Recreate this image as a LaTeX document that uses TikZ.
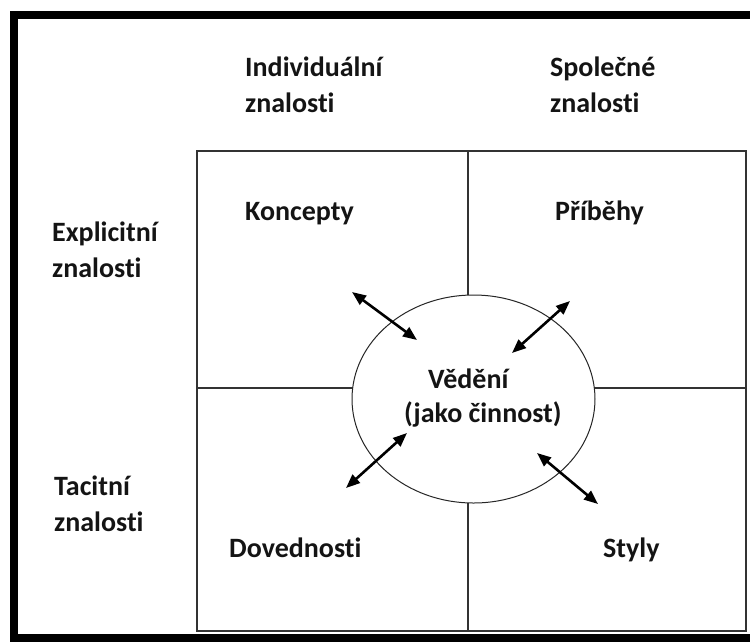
\documentclass[tikz,border=0pt]{standalone}
\usepackage{fontspec}
\setmainfont{Carlito}[Ligatures=NoCommon]
\usetikzlibrary{arrows.meta}
\begin{document}
\begin{tikzpicture}[x=1pt,y=-1pt,
  label/.style={font=\bfseries\fontsize{28}{35.5}\selectfont, text=black!92,
                inner sep=0pt, align=left},
  gridline/.style={draw=black!80, line width=1.2pt},
  frame/.style={draw=black, line width=8pt},
  link/.style={draw=black, line width=2.6pt,
               {Triangle[length=14pt,width=11pt]}-{Triangle[length=14pt,width=11pt]}}]
  \useasboundingbox (0,0) rectangle (750,641);
  % page frame (top, left and bottom edges)
  \draw[frame] (752,15) -- (13.5,15) -- (13.5,637.5) -- (752,637.5);
  % 2x2 grid
  \draw[gridline] (197,151) rectangle (746,631);
  \draw[gridline] (468,151) -- (468,631);
  \draw[gridline] (197,388) -- (746,388);
  % central ellipse, covering the grid lines
  \draw[black!85, line width=1pt, fill=white] (473.5,399) ellipse [x radius=121.5, y radius=104];
  % column and row headings (anchored at the baseline of their last line)
  \node[label, anchor=base west] (individual) at (245,112) {Individuální\\znalosti};
  \node[label, anchor=base west] (shared) at (550,112) {Společné\\znalosti};
  \node[label, anchor=base west] (explicit) at (52,277) {Explicitní\\znalosti};
  \node[label, anchor=base west] (tacit) at (54,531) {Tacitní\\znalosti};
  % quadrant labels
  \node[label, anchor=base west] (concepts) at (245,220) {Koncepty};
  \node[label, anchor=base west] (stories) at (555,220) {Příběhy};
  \node[label, anchor=base west] (skills) at (229,557) {Dovednosti};
  \node[label, anchor=base west] (styles) at (603,557) {Styly};
  % centre text
  \node[label, anchor=base west] (knowing) at (428,388) {Vědění};
  \node[label, anchor=base west] (activity) at (404,422) {(jako činnost)};
  % arrow end points
  \coordinate (nwOut) at (352,292); \coordinate (nwIn) at (417,340);
  \coordinate (neOut) at (570,301); \coordinate (neIn) at (512,353);
  \coordinate (swOut) at (346,488); \coordinate (swIn) at (407,433);
  \coordinate (seOut) at (598,504); \coordinate (seIn) at (537,453);
  \draw[link] (nwOut) -- (nwIn);
  \draw[link] (neOut) -- (neIn);
  \draw[link] (swOut) -- (swIn);
  \draw[link] (seOut) -- (seIn);
\end{tikzpicture}
\end{document}
